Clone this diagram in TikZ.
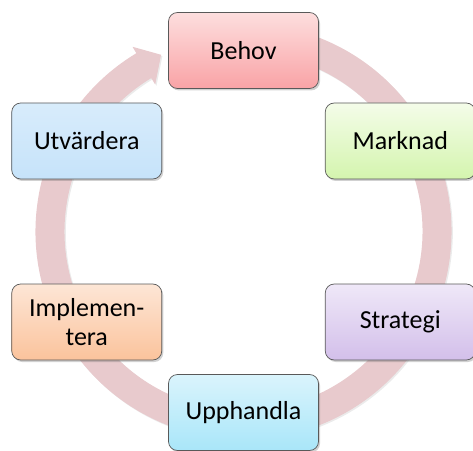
\documentclass[tikz,border=0pt]{standalone}
\usepackage{fontspec}
\setmainfont{Carlito}
\usetikzlibrary{shadows,calc}
\definecolor{ringcol}{HTML}{E8CACD}
\definecolor{behovT}{HTML}{FDDEDE}
\definecolor{behovB}{HTML}{F9A3A6}
\definecolor{markT}{HTML}{F4FCE9}
\definecolor{markB}{HTML}{D4F5AE}
\definecolor{stratT}{HTML}{EFE8F8}
\definecolor{stratB}{HTML}{D3BFEA}
\definecolor{uppT}{HTML}{DAF4FC}
\definecolor{uppB}{HTML}{A9E6F9}
\definecolor{implT}{HTML}{FDE6D6}
\definecolor{implB}{HTML}{FBC39C}
\definecolor{utvT}{HTML}{D8ECFB}
\definecolor{utvB}{HTML}{C6E3FA}
\begin{document}
\begin{tikzpicture}[x=1pt,y=1pt,
  box/.style={draw=black!65, line width=0.7pt, rounded corners=9pt,
    minimum width=150pt, minimum height=76pt, inner sep=2pt, align=center,
    font=\fontsize{26}{28.5}\selectfont,
    drop shadow={shadow xshift=1.5pt, shadow yshift=-2pt, opacity=0.3, fill=black!60}},
]
\useasboundingbox (0,0) rectangle (473,450);
\coordinate (C) at (243.5,218.5);
% ring shadow
\begin{scope}[shift={(244.8,217.2)}]
\fill[black, opacity=0.08]
  (78:208) arc[start angle=78, end angle=-239, radius=208]
  -- (-239:215.5) -- (-245:195) -- (-239:171.5) -- (-239:179)
  arc[start angle=-239, end angle=78, radius=179] -- cycle;
\end{scope}
% ring arrow
\begin{scope}[shift={(C)}]
\fill[ringcol]
  (78:208) arc[start angle=78, end angle=-239, radius=208]
  -- (-239:215.5) -- (-245:195) -- (-239:171.5) -- (-239:179)
  arc[start angle=-239, end angle=78, radius=179] -- cycle;
\end{scope}
% boxes
\node[box, top color=behovT, bottom color=behovB] (behov) at ($(C)+(90:181)$) {Behov};
\node[box, top color=markT, bottom color=markB] (marknad) at ($(C)+(30:181)$) {Marknad};
\node[box, top color=stratT, bottom color=stratB] (strategi) at ($(C)+(-30:181)$) {Strategi};
\node[box, top color=uppT, bottom color=uppB] (upphandla) at ($(C)+(-90:181)$) {Upphandla};
\node[box, top color=implT, bottom color=implB] (implementera) at ($(C)+(210:181)$) {Implemen-\\tera};
\node[box, top color=utvT, bottom color=utvB] (utvardera) at ($(C)+(150:181)$) {Utvärdera};
\end{tikzpicture}
\end{document}
